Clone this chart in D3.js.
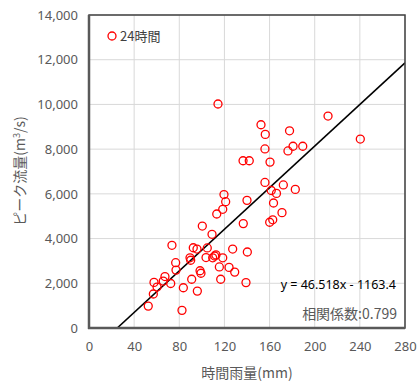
<!DOCTYPE html>
<html><head><meta charset="utf-8">
<script src="https://cdn.jsdelivr.net/npm/d3@7"></script>
<style>
html,body{margin:0;padding:0;background:#fff;}
svg{display:block;font-family:"Noto Sans","Noto Sans CJK JP",sans-serif;}
</style></head>
<body><svg id="c" width="419" height="387"></svg>
<script>
const rain = [52.5,57,57.6,60.3,65.8,67.3,72.4,73.5,76.8,77.1,82.4,83.6,89.5,90.1,91,92.4,95.7,96,98.4,99.2,100.4,103.7,104.8,109,109.6,111.4,112.5,115.5,116.7,118.5,124.1,127.3,129.1,113.2,118.5,121.1,119.6,114.3,136.5,142,136.7,139.1,140,140.3,152.4,156.2,155.9,160.4,155.9,161.5,166.1,163.5,172.2,182.8,171,160.1,162.8,177.7,176.3,180.8,189.4,211.8,240.4];
const peak = [980,1520,2040,1830,2100,2300,1990,3700,2920,2590,790,1800,3140,3030,2180,3590,3530,1650,2560,2450,4560,3150,3580,4190,3140,3220,3270,2730,2180,3140,2710,3530,2500,5100,5310,5650,5970,10020,7480,7480,4670,2030,5710,3400,9090,8660,8010,7420,6510,6150,6020,5590,6400,6200,5160,4730,4840,8820,7920,8130,8130,9480,8450];
const xTicks = [0,40,80,120,160,200,240,280];
const yTicks = [0,2000,4000,6000,8000,10000,12000,14000];
const slope = 46.518, intercept = -1163.4;
const seriesName = "24時間";
const eqText = "y = 46.518x - 1163.4";
const corrText = "相関係数:0.799";

const svg = d3.select("#c");
const L=89, R=405, T=15, B=328;
const x = d3.scaleLinear().domain([0,280]).range([L,R]);
const y = d3.scaleLinear().domain([0,14000]).range([B,T]);

svg.append("g").selectAll("line.v").data(xTicks).join("line")
  .attr("x1",d=>x(d)).attr("x2",d=>x(d)).attr("y1",T).attr("y2",B)
  .attr("stroke","#d9d9d9").attr("stroke-width",1);
svg.append("g").selectAll("line.h").data(yTicks).join("line")
  .attr("x1",L).attr("x2",R).attr("y1",d=>y(d)).attr("y2",d=>y(d))
  .attr("stroke","#d9d9d9").attr("stroke-width",1);

const xa = svg.append("g").attr("transform",`translate(0,${B})`)
  .call(d3.axisBottom(x).tickValues(xTicks).tickSize(0).tickPadding(14).tickFormat(d3.format("d")));
const ya = svg.append("g").attr("transform",`translate(${L},0)`)
  .call(d3.axisLeft(y).tickValues(yTicks).tickSize(0).tickPadding(11).tickFormat(d3.format(",")));
[xa,ya].forEach(a=>{a.select(".domain").remove();
  a.selectAll("text").attr("font-size",13).attr("fill","#595959").attr("font-family","'Noto Sans',sans-serif");});

svg.append("clipPath").attr("id","clip").append("rect").attr("x",L).attr("y",T).attr("width",R-L).attr("height",B-T);
const x0 = -intercept/slope;
svg.append("line").attr("clip-path","url(#clip)")
  .attr("x1",x(x0)).attr("y1",y(slope*x0+intercept))
  .attr("x2",x(280)).attr("y2",y(slope*280+intercept))
  .attr("stroke","#000").attr("stroke-width",1.6);

svg.append("g").selectAll("circle").data(rain.map((r,i)=>[r,peak[i]])).join("circle")
  .attr("cx",d=>x(d[0])).attr("cy",d=>y(d[1])).attr("r",4)
  .attr("fill","none").attr("stroke","#ff0000").attr("stroke-width",1.3);

svg.append("rect").attr("x",L).attr("y",T).attr("width",R-L).attr("height",B-T)
  .attr("fill","none").attr("stroke","#404040").attr("stroke-width",1.5);
svg.append("line").attr("x1",L).attr("x2",L).attr("y1",T).attr("y2",B+1).attr("stroke","#595959").attr("stroke-width",2.5);
svg.append("line").attr("x1",L-1).attr("x2",R).attr("y1",B).attr("y2",B).attr("stroke","#595959").attr("stroke-width",2.5);

svg.append("circle").attr("cx",112).attr("cy",36).attr("r",4)
  .attr("fill","none").attr("stroke","#ff0000").attr("stroke-width",1.3);
svg.append("text").attr("x",120).attr("y",41).attr("font-size",13).attr("fill","#404040")
  .attr("font-family","'Noto Sans CJK JP',sans-serif").text(seriesName);

svg.append("text").attr("x",396).attr("y",289).attr("text-anchor","end").attr("font-size",12.5)
  .attr("fill","#000").attr("font-family","'Noto Sans',sans-serif").text(eqText);
svg.append("text").attr("x",397).attr("y",319).attr("text-anchor","end").attr("font-size",14)
  .attr("fill","#595959").attr("font-family","'Noto Sans CJK JP',sans-serif").text(corrText);

svg.append("text").attr("x",247).attr("y",378).attr("text-anchor","middle").attr("font-size",14)
  .attr("fill","#595959").attr("font-family","'Noto Sans CJK JP',sans-serif").text("時間雨量(mm)");
const yt = svg.append("text").attr("transform","translate(25,171) rotate(-90)").attr("text-anchor","middle")
  .attr("font-size",14).attr("fill","#595959").attr("font-family","'Noto Sans CJK JP',sans-serif");
yt.append("tspan").text("ピーク流量(m");
yt.append("tspan").attr("font-size",9).attr("dy",-5).text("3");
yt.append("tspan").attr("dy",5).text("/s)");
</script></body></html>
